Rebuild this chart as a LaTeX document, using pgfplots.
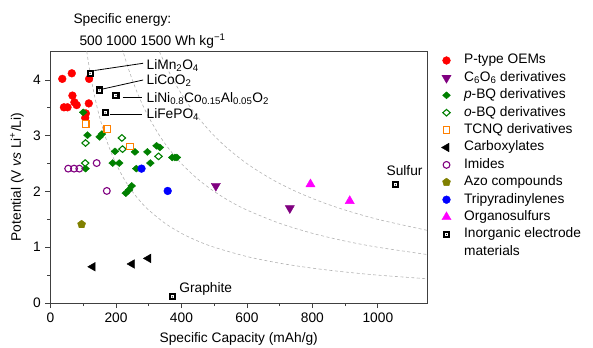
\documentclass[border=0pt]{standalone}
\usepackage{fontspec}
\setmainfont{Liberation Sans}
\usepackage{pgfplots}
\pgfplotsset{compat=1.18}
\definecolor{cpurple}{RGB}{128,0,128}
\definecolor{cgreen}{RGB}{0,128,0}
\definecolor{corange}{RGB}{255,128,0}
\definecolor{colive}{RGB}{128,128,0}
\definecolor{cmagenta}{RGB}{255,0,255}
\pgfdeclareplotmark{sqdot}{%
  \pgfsetfillcolor{black}%
  \pgfpathrectangle{\pgfpoint{-\pgfplotmarksize}{-\pgfplotmarksize}}{\pgfpoint{2\pgfplotmarksize}{2\pgfplotmarksize}}\pgfusepath{fill}%
  \pgfsetfillcolor{white}%
  \pgfpathrectangle{\pgfpoint{-0.42\pgfplotmarksize}{-0.42\pgfplotmarksize}}{\pgfpoint{0.84\pgfplotmarksize}{0.84\pgfplotmarksize}}\pgfusepath{fill}%
  \pgfsetfillcolor{black}%
  \pgfpathcircle{\pgfpointorigin}{0.18\pgfplotmarksize}\pgfusepath{fill}%
}
\pgfplotsset{only mark legend/.style={legend image code/.code={\draw[mark repeat=2,mark phase=2,##1] plot coordinates {(0bp,0bp)(9bp,0bp)(18bp,0bp)};}}}
\begin{document}
\fontsize{13.8}{16}\selectfont
\begin{tikzpicture}
\useasboundingbox (-50.5bp,-45bp) rectangle (542.5bp,303bp);
\begin{axis}[at={(0,0)},anchor=south west,
  scale only axis, width=376.5bp, height=252bp,
  xmin=0, xmax=1150, ymin=0, ymax=4.52,
  xtick={0,200,...,1000}, ytick={0,1,2,3,4},
  minor x tick num=1, minor y tick num=1,
  tick align=outside, xtick pos=lower, ytick pos=lower,
  major tick length=5bp, minor tick length=3bp,
  axis line style={black!75, line width=0.8pt},
  every tick/.style={black!75, line width=0.8pt},
  /pgf/number format/assume math mode=true,
  /pgf/number format/1000 sep={},
  xlabel={Specific Capacity (mAh/g)},
  ylabel={Potential (V \textit{vs} Li\textsuperscript{+}/Li)},
  every axis x label/.style={at={(axis description cs:0.5,-0.143)},anchor=center},
  every axis y label/.style={at={(axis description cs:-0.089,0.5)},rotate=90,anchor=center},
  legend cell align=left,
  legend style={at={(axis description cs:1,1)}, anchor=north west, xshift=11bp, yshift=-2bp,
    draw=none, fill=none, inner sep=0pt, outer sep=0pt, row sep=2.4bp,
    nodes={inner xsep=0pt, inner ysep=0pt, text height=11bp, text depth=4bp},
    /tikz/every odd column/.style={column sep=13bp}},
]
% specific energy isolines
\addplot[forget plot, smooth, gray!60, line width=0.6pt, dash pattern=on 3pt off 2.5pt] coordinates {
(100,5.0)(111,4.505)(120,4.167)(130,3.846)(140,3.571)(150,3.333)(165,3.030)(180,2.778)(200,2.5)(225,2.222)(250,2.0)(275,1.818)(300,1.667)(350,1.429)(400,1.25)(450,1.111)(500,1.0)(600,0.833)(700,0.714)(800,0.625)(900,0.556)(1000,0.5)(1150,0.435)};
\addplot[forget plot, smooth, gray!60, line width=0.6pt, dash pattern=on 3pt off 2.5pt] coordinates {
(210,4.762)(222,4.505)(240,4.167)(260,3.846)(280,3.571)(300,3.333)(330,3.030)(360,2.778)(400,2.5)(450,2.222)(500,2.0)(550,1.818)(600,1.667)(700,1.429)(800,1.25)(900,1.111)(1000,1.0)(1150,0.870)};
\addplot[forget plot, smooth, gray!60, line width=0.6pt, dash pattern=on 3pt off 2.5pt] coordinates {
(320,4.688)(333,4.505)(360,4.167)(390,3.846)(420,3.571)(450,3.333)(495,3.030)(540,2.778)(600,2.5)(675,2.222)(750,2.0)(825,1.818)(900,1.667)(1000,1.5)(1150,1.304)};
% leader lines
\draw[black, line width=0.8pt] (axis cs:134,4.17) -- (axis cs:283,4.30);
\draw[black, line width=0.8pt] (axis cs:161,3.84) -- (axis cs:283,4.00);
\draw[black, line width=0.8pt] (axis cs:220,3.69) -- (axis cs:279,3.69);
\draw[black, line width=0.8pt] (axis cs:182,3.39) -- (axis cs:279,3.39);
% P-type OEMs
\addplot[only marks, mark=*, mark size=3.9bp, color=red] coordinates {
(36,4.02)(65,4.12)(118,4.02)(67,3.72)(73,3.60)(41,3.51)(52,3.51)(80,3.55)(117,3.58)(108,3.40)(106,3.32)};
\addlegendentry{P-type OEMs}
% C6O6
\addplot[only marks, mark=triangle*, mark size=5.3bp, color=cpurple, mark options={rotate=180}] coordinates {
(505,2.10)(731,1.70)};
\addlegendentry{C\textsubscript{6}O\textsubscript{6} derivatives}
% p-BQ
\addplot[only marks, mark=diamond*, mark size=3.5bp, color=cgreen, mark options={xscale=1.5}] coordinates {
(100,3.42)(113,3.01)(150,2.98)(157,3.03)(197,2.72)(258,2.71)(296,2.71)(324,2.82)(334,2.79)(190,2.51)(210,2.51)(305,2.51)(372,2.61)(380,2.61)(386,2.61)(107,2.41)(262,2.41)(230,1.97)(240,2.03)(248,2.10)};
\addlegendentry{\textit{p}-BQ derivatives}
% o-BQ
\addplot[only marks, mark=diamond*, mark size=3.3bp, color=cgreen, mark options={xscale=1.5, fill=white, line width=1.1pt}] coordinates {
(107,2.87)(218,2.96)(220,2.76)(330,2.63)(106,2.51)};
\addlegendentry{\textit{o}-BQ derivatives}
% TCNQ
\addplot[only marks, mark=square*, mark size=3.2bp, color=corange, mark options={fill=white, line width=1.2pt}] coordinates {
(108,3.21)(173,3.12)(243,2.81)};
\addlegendentry{TCNQ derivatives}
% Carboxylates
\addplot[only marks, mark=triangle*, mark size=5bp, color=black, mark options={rotate=90}] coordinates {
(129,0.65)(249,0.70)(299,0.80)};
\addlegendentry{Carboxylates}
% Imides
\addplot[only marks, mark=o, mark size=3.4bp, color=cpurple, mark options={line width=1.1pt}] coordinates {
(54,2.41)(72,2.41)(88,2.41)(141,2.51)(172,2.01)};
\addlegendentry{Imides}
% Azo
\addplot[only marks, mark=pentagon*, mark size=4.2bp, color=colive] coordinates {(95,1.41)};
\addlegendentry{Azo compounds}
% Tripyradinylenes
\addplot[only marks, mark=*, mark size=3.9bp, color=blue] coordinates {(278,2.41)(358,2.01)};
\addlegendentry{Tripyradinylenes}
% Organosulfurs
\addplot[only marks, mark=triangle*, mark size=5.3bp, color=cmagenta] coordinates {(794,2.13)(914,1.83)};
\addlegendentry{Organosulfurs}
% Inorganic
\addplot[only marks, mark=sqdot, mark size=3.6bp, color=black] coordinates {
(121,4.12)(149,3.82)(200,3.72)(167,3.41)(372,0.11)(1054,2.12)};
\addlegendentry{Inorganic electrode}
\addlegendimage{empty legend}
\addlegendentry{materials}
% labels
\node[anchor=base west, inner sep=0pt] at (axis cs:293,4.183) {LiMn\textsubscript{2}O\textsubscript{4}};
\node[anchor=base west, inner sep=0pt] at (axis cs:293,3.914) {LiCoO\textsubscript{2}};
\node[anchor=base west, inner sep=0pt] at (axis cs:293,3.596) {LiNi\textsubscript{0.8}Co\textsubscript{0.15}Al\textsubscript{0.05}O\textsubscript{2}};
\node[anchor=base west, inner sep=0pt] at (axis cs:293,3.309) {LiFePO\textsubscript{4}};
\node[anchor=base west, inner sep=0pt] at (axis cs:393,0.185) {Graphite};
\node[anchor=base east, inner sep=0pt] at (axis cs:1137,2.286) {Sulfur};
\end{axis}
\node[anchor=base west, inner sep=0pt] at (22.8bp,279bp) {Specific energy:};
\node[anchor=base west, inner sep=0pt] at (28.8bp,257bp) {500 1000 1500 Wh kg\textsuperscript{−1}};
\end{tikzpicture}
\end{document}
